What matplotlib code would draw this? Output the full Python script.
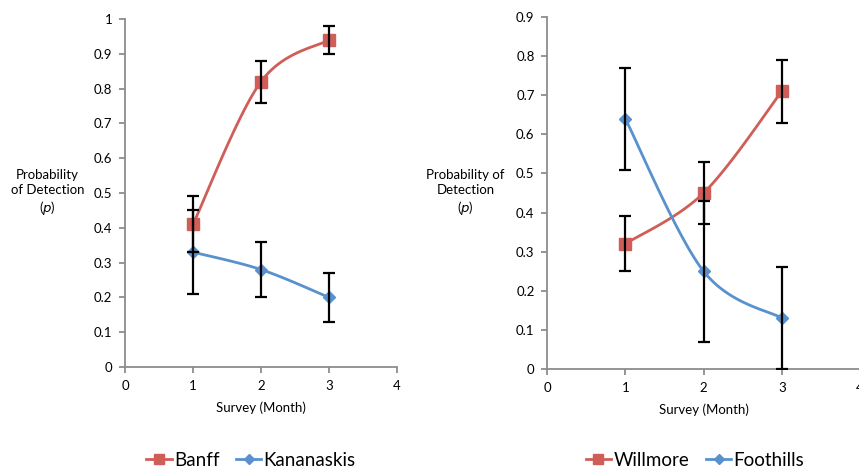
import numpy as np
import matplotlib.pyplot as plt

plt.rcParams['font.family'] = ['Lato', 'DejaVu Sans']

months = [1, 2, 3]

banff = [0.41, 0.82, 0.94]
banff_err = [0.08, 0.06, 0.04]
kananaskis = [0.33, 0.28, 0.20]
kananaskis_err = [0.12, 0.08, 0.07]

willmore = [0.32, 0.45, 0.71]
willmore_err = [0.07, 0.08, 0.08]
foothills = [0.64, 0.25, 0.13]
foothills_err = [0.13, 0.18, 0.13]

red = '#CF5E59'
blue = '#5891CD'
axis_grey = '#8C8C8C'


def smooth(x, y, n=60):
    # Catmull-Rom style bezier through the points, like a spreadsheet "smoothed line"
    pts = np.column_stack([x, y]).astype(float)
    padded = np.vstack([pts[0], pts, pts[-1]])
    t = np.linspace(0, 1, n)[:, None]
    out = []
    for i in range(len(pts) - 1):
        p0, p3 = padded[i + 1], padded[i + 2]
        c1 = p0 + (padded[i + 2] - padded[i]) / 6
        c2 = p3 - (padded[i + 3] - padded[i + 1]) / 6
        seg = ((1 - t)**3 * p0 + 3 * (1 - t)**2 * t * c1
               + 3 * (1 - t) * t**2 * c2 + t**3 * p3)
        out.append(seg)
    out = np.vstack(out)
    return out[:, 0], out[:, 1]


def draw_series(ax, y, err, color, marker, ms, label):
    sx, sy = smooth(months, y)
    ax.plot(sx, sy, color=color, lw=2.0, zorder=3)
    ax.plot(months, y, ls='none', marker=marker, ms=ms, color=color,
            mec=color, zorder=4)
    ax.errorbar(months, y, yerr=err, fmt='none', ecolor='black',
                elinewidth=1.6, capsize=4, capthick=1.6, zorder=5)
    # legend proxy: line with marker
    ax.plot([], [], color=color, lw=2.0, marker=marker, ms=ms * 0.85,
            label=label)


def style_axes(ax, ymax, ylabel, label_x):
    ax.set_xlim(0, 4)
    ax.set_ylim(0, ymax)
    ax.set_xticks(range(5))
    ticks = np.round(np.arange(0, ymax + 0.001, 0.1), 1)
    ax.set_yticks(ticks)
    ax.set_yticklabels(['0' if v == 0 else ('1' if v == 1 else f'{v:.1f}')
                        for v in ticks])
    for side in ('top', 'right'):
        ax.spines[side].set_visible(False)
    for side in ('left', 'bottom'):
        ax.spines[side].set_color(axis_grey)
        ax.spines[side].set_linewidth(1.3)
    ax.tick_params(direction='out', length=4, width=1.3, color=axis_grey,
                   labelsize=9.5, pad=5)
    ax.set_xlabel('Survey (Month)', fontsize=9.5, labelpad=7)
    ax.text(label_x, 0.5, ylabel, transform=ax.transAxes, ha='center',
            va='center', fontsize=9.5, linespacing=1.25)


def add_legend(ax, center_x):
    ax.legend(loc='center', bbox_to_anchor=(center_x / 859, 0.017),
              bbox_transform=fig.transFigure, ncol=2, frameon=False,
              fontsize=13.5, handlelength=1.35, handletextpad=0.12,
              columnspacing=0.9, borderpad=0)


fig = plt.figure(figsize=(8.59, 4.68), dpi=100)

ax1 = fig.add_axes([0.1455, 0.2158, 0.3167, 0.7436])
draw_series(ax1, banff, banff_err, red, 's', 9, 'Banff')
draw_series(ax1, kananaskis, kananaskis_err, blue, 'D', 6, 'Kananaskis')
style_axes(ax1, 1.0, 'Probability\nof Detection\n($p$)', -0.285)
add_legend(ax1, 251)

ax2 = fig.add_axes([0.6368, 0.2115, 0.3645, 0.7522])
draw_series(ax2, willmore, willmore_err, red, 's', 9, 'Willmore')
draw_series(ax2, foothills, foothills_err, blue, 'D', 6, 'Foothills')
style_axes(ax2, 0.9, 'Probability of\nDetection\n($p$)', -0.26)
add_legend(ax2, 695)

fig.savefig('out.png', dpi=100)
